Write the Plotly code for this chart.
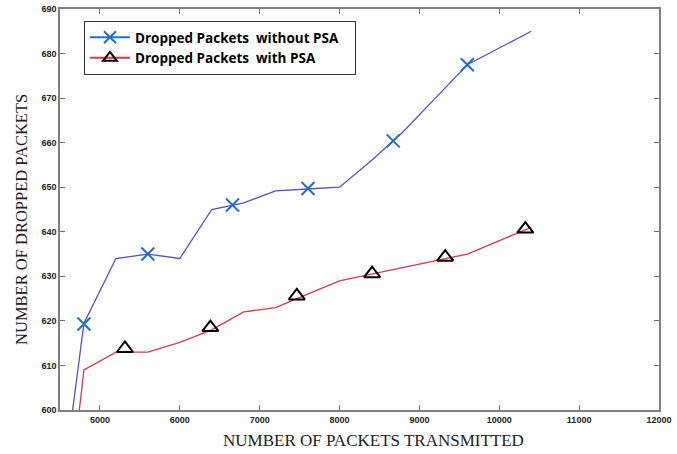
import plotly.graph_objects as go

# Line vertices
x_line_without = [4600, 4800, 5200, 5600, 6000, 6400, 6800, 7200, 7600, 8000, 8400, 8800, 9200, 9600, 10400]
y_line_without = [592, 619.5, 634, 635, 634, 645, 646.5, 649.2, 649.6, 650, 656, 662.5, 670, 677.5, 685]
x_line_with = [4600, 4800, 5200, 5600, 6000, 6400, 6800, 7200, 7600, 8000, 8400, 8800, 9200, 9600, 10400]
y_line_with = [578, 609, 613, 613, 615.2, 618, 622, 623, 626, 629, 630.5, 632, 633.5, 635, 641]

# Marker positions
x_mark_without = [4800, 5600, 6660, 7605, 8672, 9600]
y_mark_without = [619.3, 635, 646, 649.7, 660.4, 677.5]
x_mark_with = [5313, 6383, 7465, 8408, 9323, 10326]
y_mark_with = [613.8, 618.5, 625.6, 630.6, 634.3, 640.6]

series_names = ["Dropped Packets\u00a0\u00a0without PSA", "Dropped Packets\u00a0\u00a0with PSA"]
x_ticks = [5000, 6000, 7000, 8000, 9000, 10000, 11000, 12000]
y_ticks = [600, 610, 620, 630, 640, 650, 660, 670, 680, 690]

blue_line = "#5b50c4"
blue_mark = "#1f6fd0"
red_line = "#d23a52"

fig = go.Figure()
fig.add_trace(go.Scatter(x=x_line_without, y=y_line_without, mode="lines",
                         line=dict(color=blue_line, width=1.3), showlegend=False))
fig.add_trace(go.Scatter(x=x_line_with, y=y_line_with, mode="lines",
                         line=dict(color=red_line, width=1.3), showlegend=False))
fig.add_trace(go.Scatter(x=x_mark_without, y=y_mark_without, mode="markers",
                         marker=dict(symbol="x-thin-open", size=13, color=blue_mark,
                                     line=dict(color=blue_mark, width=2)),
                         showlegend=False))
fig.add_trace(go.Scatter(x=x_mark_with, y=y_mark_with, mode="markers",
                         marker=dict(symbol="triangle-up-open", size=14, color="black",
                                     line=dict(color="black", width=2)),
                         showlegend=False))
# legend entries (a white spacer pads the box on the right like the reference)
spacer = "<span style='color:white'>__</span>"
fig.add_trace(go.Scatter(x=[None], y=[None], mode="lines+markers", name=series_names[0] + spacer,
                         line=dict(color=blue_mark, width=2),
                         marker=dict(symbol="x-thin-open", size=12, color=blue_mark,
                                     line=dict(color=blue_mark, width=2))))
fig.add_trace(go.Scatter(x=[None], y=[None], mode="lines+markers", name=series_names[1],
                         line=dict(color=red_line, width=2),
                         marker=dict(symbol="triangle-up-open", size=12, color="black",
                                     line=dict(color="black", width=2))))

tickfont = dict(family="Liberation Sans Narrow, Arial Narrow, sans-serif", size=9, color="#222", weight="bold")
axis_common = dict(showgrid=False, zeroline=False, showline=True, linecolor="#808080", linewidth=1.5,
                   mirror="allticks", ticks="inside", ticklen=5, tickcolor="#707070", tickwidth=1.3,
                   tickfont=tickfont, automargin=False, ticklabeloverflow="allow")

fig.update_xaxes(range=[4500, 12000], tickvals=x_ticks, ticktext=[str(v) for v in x_ticks], **axis_common)
fig.update_yaxes(range=[600, 690], tickvals=y_ticks, ticktext=[str(v) for v in y_ticks], **axis_common)

fig.update_layout(
    width=677, height=454,
    margin=dict(l=60, r=18, t=9, b=44, autoexpand=False),
    paper_bgcolor="white", plot_bgcolor="white",
    legend=dict(x=0.04, y=0.97, xanchor="left", yanchor="top",
                bordercolor="#333", borderwidth=1, bgcolor="white",
                font=dict(family="Open Sans, Liberation Sans, sans-serif", size=13.5, color="black", weight="bold"),
                itemwidth=40, tracegroupgap=0),
    annotations=[
        dict(text="NUMBER OF PACKETS TRANSMITTED", xref="paper", yref="paper", x=0.523, y=0,
             yshift=-30, xanchor="center", yanchor="middle", showarrow=False,
             font=dict(family="Liberation Serif, Times New Roman, serif", size=17, color="#222")),
        dict(text="NUMBER OF DROPPED PACKETS", xref="paper", yref="paper", x=0, y=0.474,
             xshift=-38, xanchor="center", yanchor="middle", showarrow=False, textangle=-90,
             font=dict(family="Liberation Serif, Times New Roman, serif", size=16.5, color="#222")),
    ],
)

# remove the default 8px page margin so the figure fills the window exactly
fig.write_html("out.html", config={"displayModeBar": False},
               post_script="document.body.style.margin='0';")
